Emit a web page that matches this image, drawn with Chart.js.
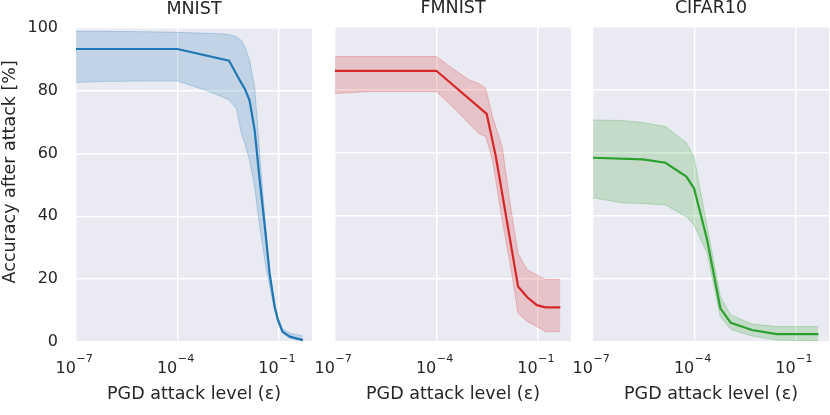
<!DOCTYPE html>
<html>
<head>
<meta charset="utf-8">
<script src="https://cdn.jsdelivr.net/npm/chart.js@4"></script>
<style>
  body { margin: 0; background: #fff; overflow: hidden; }
  #wrap { position: relative; width: 830px; height: 415px; }
  .panel { position: absolute; top: 0; height: 415px; }
</style>
</head>
<body>
<div id="wrap">
  <div class="panel" style="left:0;width:330px"><canvas id="mnist"></canvas></div>
  <div class="panel" style="left:300px;width:290px"><canvas id="fmnist"></canvas></div>
  <div class="panel" style="left:560px;width:270px"><canvas id="cifar"></canvas></div>
</div>
<script>
// x ticks shared by all three panels, drawn as 10 with a raised exponent
const xTicks = [1e-7, 1e-4, 1e-1];
const xTickBase = '10';
const xTickExps = ['−7', '−4', '−1'];
const yTicks = [0, 20, 40, 60, 80, 100];

// MNIST
const mnistEps = [1e-7, 1e-4, 3.4e-3, 7.1e-3, 0.01, 0.0138, 0.0195, 0.0275, 0.039, 0.054, 0.076, 0.095, 0.129, 0.214, 0.52];
const mnistMean = [93.2, 93.2, 89.5, 83.2, 80.5, 76.8, 67.3, 51.4, 36.6, 21.8, 11.2, 7.0, 3.3, 1.7, 0.6];
const mnistBandEps = [1e-7, 1e-6, 1e-5, 1e-4, 7.2e-4, 2.2e-3, 3.4e-3, 5.6e-3, 7.9e-3, 0.01, 0.0138, 0.0195, 0.0275, 0.039, 0.054, 0.076, 0.095, 0.129, 0.214, 0.52];
const mnistUpper = [98.8, 98.8, 98.7, 98.5, 98.2, 98.0, 97.8, 97.1, 95.9, 93.8, 89.5, 81.1, 59.9, 39.8, 21.8, 12.3, 8.0, 4.3, 2.8, 1.9];
const mnistLower = [82.6, 82.9, 83.0, 83.0, 80.0, 77.9, 77.0, 74.2, 66.2, 63.1, 57.8, 49.3, 36.6, 26.0, 17.6, 10.2, 6.5, 2.8, 1.2, 0.4];

// FMNIST
const fmnistEps = [1e-7, 1e-4, 3.1e-3, 5.8e-3, 0.0263, 0.049, 0.095, 0.17, 0.47];
const fmnistMean = [86.1, 86.1, 72.4, 58.8, 17.6, 14.2, 11.7, 11.0, 11.0];
const fmnistBandEps = [1e-7, 1e-6, 1e-5, 1e-4, 3.0e-4, 9.3e-4, 1.8e-3, 2.9e-3, 4.6e-3, 8.9e-3, 0.0158, 0.0263, 0.049, 0.095, 0.17, 0.47];
const fmnistUpper = [90.6, 90.6, 90.6, 90.6, 86.9, 83.2, 82.1, 80.5, 71.5, 62.0, 43.0, 28.1, 22.9, 21.3, 19.9, 19.9];
const fmnistLower = [78.9, 79.5, 79.5, 79.5, 74.7, 69.4, 66.2, 65.2, 57.8, 38.7, 23.9, 9.1, 6.5, 4.9, 3.3, 3.3];

// CIFAR10
const cifarEps = [1e-7, 3.0e-6, 1.4e-5, 5.8e-5, 9.8e-5, 2.4e-4, 5.9e-4, 1.2e-3, 5.1e-3, 0.0275, 0.47];
const cifarMean = [58.5, 58.0, 56.9, 52.5, 48.8, 32.4, 10.7, 6.1, 3.8, 2.5, 2.5];
const cifarBandEps = [1e-7, 6.8e-7, 3.0e-6, 1.4e-5, 5.8e-5, 9.8e-5, 2.4e-4, 5.9e-4, 1.2e-3, 5.1e-3, 0.0275, 0.47];
const cifarUpper = [70.5, 70.3, 69.7, 68.4, 63.3, 58.8, 36.6, 14.4, 8.6, 5.7, 4.9, 4.9];
const cifarLower = [45.8, 44.2, 44.0, 43.5, 39.8, 37.1, 28.1, 8.0, 4.0, 1.9, 0.6, 0.4];

const FONT = "'DejaVu Sans'";
const TEXT = '#262626';
const yTitle = 'Accuracy after attack [%]';

const bgPlugin = {
  id: 'bg',
  beforeDraw(chart) {
    const { ctx, chartArea: a } = chart;
    ctx.save();
    ctx.fillStyle = '#eaeaf2';
    ctx.fillRect(a.left, a.top, a.right - a.left, a.bottom - a.top);
    ctx.restore();
  }
};

// matplotlib-style 10^n labels under the x axis
const xTickPlugin = {
  id: 'xTickText',
  afterDraw(chart) {
    const ctx = chart.ctx;
    const xs = chart.scales.x;
    ctx.save();
    ctx.fillStyle = TEXT;
    ctx.textAlign = 'left';
    ctx.textBaseline = 'alphabetic';
    xTicks.forEach((v, i) => {
      const px = xs.getPixelForValue(v);
      ctx.font = '16px ' + FONT;
      const wb = ctx.measureText(xTickBase).width;
      ctx.font = '11.2px ' + FONT;
      const we = ctx.measureText(xTickExps[i]).width;
      const x0 = px - (wb + we) / 2 - 2;
      ctx.font = '16px ' + FONT;
      ctx.fillText(xTickBase, x0, xs.top + 30.5);
      ctx.font = '11.2px ' + FONT;
      ctx.fillText(xTickExps[i], x0 + wb + 0.5, xs.top + 19.5);
    });
    ctx.restore();
  }
};

// y label, sits a little above the middle of the axes like the original
const yTitlePlugin = {
  id: 'yTitleText',
  afterDraw(chart, args, opts) {
    if (!opts.text) return;
    const ctx = chart.ctx;
    const ys = chart.scales.y;
    ctx.save();
    ctx.translate(15, (ys.top + ys.bottom) / 2 - 13);
    ctx.rotate(-Math.PI / 2);
    ctx.fillStyle = TEXT;
    ctx.font = '17.5px ' + FONT;
    ctx.textAlign = 'center';
    ctx.textBaseline = 'alphabetic';
    ctx.fillText(opts.text, 0, 0);
    ctx.restore();
  }
};

function zip(xs, ys) {
  return xs.map((x, i) => ({ x: x, y: ys[i] }));
}

function makePanel(id, title, eps, mean, bandEps, upper, lower, rgb, first, padL, padR) {
  const c = (a) => 'rgba(' + rgb + ',' + a + ')';
  return new Chart(document.getElementById(id), {
    type: 'line',
    data: {
      datasets: [
        { data: zip(eps, mean), borderColor: c(1), borderWidth: 2.2, pointRadius: 0, fill: false, tension: 0 },
        { data: zip(bandEps, lower), borderColor: c(0.25), borderWidth: 1, pointRadius: 0, fill: false, tension: 0 },
        { data: zip(bandEps, upper), borderColor: c(0.25), borderWidth: 1, pointRadius: 0, fill: '-1', backgroundColor: c(0.2), tension: 0 }
      ]
    },
    options: {
      responsive: true,
      maintainAspectRatio: false,
      animation: false,
      layout: { padding: { left: padL, right: padR, top: 0, bottom: 0 } },
      scales: {
        x: {
          type: 'logarithmic',
          min: 1e-7,
          max: 0.97,
          border: { display: false },
          grid: { color: '#ffffff', lineWidth: 1.4, drawTicks: false },
          afterBuildTicks: (s) => { s.ticks = xTicks.map(v => ({ value: v })); },
          afterFit: (s) => { s.height = 73; },
          ticks: { display: false },
          title: {
            display: true, text: 'PGD attack level (ε)', color: TEXT,
            font: { family: FONT, size: 17.5 }, padding: { top: 0, bottom: 10.5 }
          }
        },
        y: {
          min: 0,
          max: 100,
          border: { display: false },
          grid: { color: '#ffffff', lineWidth: 1.4, drawTicks: false },
          afterBuildTicks: (s) => { s.ticks = yTicks.map(v => ({ value: v })); },
          afterFit: (s) => { s.width = first ? 76 : 0; },
          ticks: {
            display: first, padding: 18, color: TEXT,
            font: { family: FONT, size: 16 }
          }
        }
      },
      plugins: {
        legend: { display: false },
        tooltip: { enabled: false },
        yTitleText: { text: first ? yTitle : '' },
        title: {
          display: true, text: title, color: TEXT, fullSize: false,
          font: { family: FONT, size: 17.5, weight: 'normal', lineHeight: 1.0 },
          padding: { top: 0, bottom: 9.5 }
        }
      }
    },
    plugins: [bgPlugin, xTickPlugin, yTitlePlugin]
  });
}

makePanel('mnist', 'MNIST', mnistEps, mnistMean, mnistBandEps, mnistUpper, mnistLower, '31,119,180', true, 0, 18);
makePanel('fmnist', 'FMNIST', fmnistEps, fmnistMean, fmnistBandEps, fmnistUpper, fmnistLower, '214,39,40', false, 35, 19);
makePanel('cifar', 'CIFAR10', cifarEps, cifarMean, cifarBandEps, cifarUpper, cifarLower, '44,160,44', false, 33, 1);
</script>
</body>
</html>
